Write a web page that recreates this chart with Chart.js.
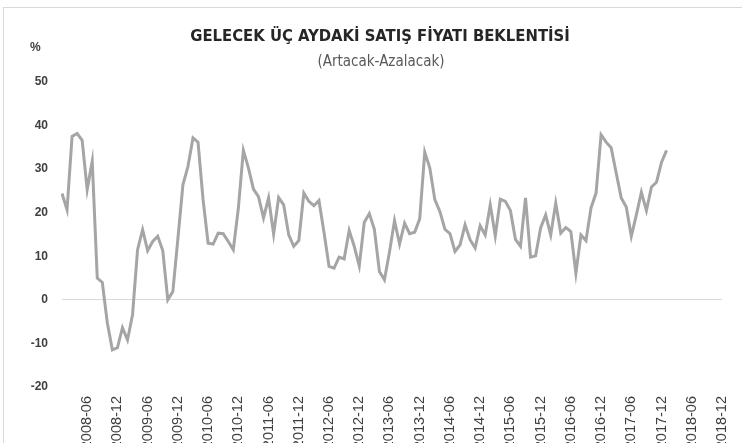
<!DOCTYPE html>
<html>
<head>
<meta charset="utf-8">
<script src="https://cdn.jsdelivr.net/npm/chart.js@4/dist/chart.umd.min.js"></script>
<style>
  html, body { margin: 0; padding: 0; background: #fff; overflow: hidden; }
  #wrap { position: relative; width: 742px; height: 470px; }
</style>
</head>
<body>
<div id="wrap"><canvas id="c" width="742" height="470"></canvas></div>
<script>
// Monthly values 2008-01 .. 2018-01
const v2008 = [24.4, 20.7, 37.5, 38.2, 36.6, 25.3, 31.8, 5.0, 4.0, -5.3, -11.5, -11.0];
const v2009 = [-6.4, -9.2, -3.4, 11.5, 16.1, 11.3, 13.4, 14.6, 11.3, 0.0, 1.9, 14.0];
const v2010 = [26.4, 30.6, 37.2, 36.2, 23.0, 13.0, 12.8, 15.3, 15.2, 13.4, 11.5, 21.0];
const v2011 = [34.3, 30.3, 25.4, 23.7, 18.8, 23.4, 15.1, 23.5, 21.8, 14.9, 12.3, 13.6];
const v2012 = [24.5, 22.6, 21.6, 22.8, 15.5, 7.7, 7.3, 9.8, 9.4, 15.9, 12.3, 7.8];
const v2013 = [17.8, 19.8, 16.2, 6.5, 4.6, 11.0, 18.2, 12.8, 17.6, 15.2, 15.5, 18.6];
const v2014 = [33.9, 30.3, 23.0, 20.3, 16.2, 15.2, 11.1, 12.6, 17.2, 13.8, 11.9, 17.0];
const v2015 = [14.9, 21.8, 14.7, 23.1, 22.6, 20.5, 13.9, 12.3, 23.4, 9.8, 10.1, 16.5];
const v2016 = [19.5, 14.9, 22.2, 15.3, 16.6, 15.7, 6.1, 14.9, 13.6, 21.1, 24.5, 37.9];
const v2017 = [36.2, 34.9, 29.1, 23.4, 21.3, 14.6, 19.5, 24.7, 20.5, 25.9, 27.0, 31.6];
const v2018 = [34.3];

const years = [2008, 2009, 2010, 2011, 2012, 2013, 2014, 2015, 2016, 2017, 2018];
const months = ['01','02','03','04','05','06','07','08','09','10','11','12'];
const yTicks = [-20, -10, 0, 10, 20, 30, 40, 50];

const titleText = 'GELECEK ÜÇ AYDAKİ SATIŞ FİYATI BEKLENTİSİ';
const subtitleText = '(Artacak-Azalacak)';
const unitText = '%';

const categories = [];
years.forEach(y => months.forEach(m => categories.push(y + '-' + m)));
const values = [].concat(v2008, v2009, v2010, v2011, v2012, v2013, v2014, v2015, v2016, v2017, v2018);

const headings = {
  id: 'headings',
  beforeDraw(chart) {
    const ctx = chart.ctx;
    ctx.save();
    ctx.strokeStyle = '#d9d9d9';
    ctx.lineWidth = 1;
    ctx.strokeRect(3.5, 7.5, 900, 600);
    ctx.restore();
  },
  afterDraw(chart) {
    const ctx = chart.ctx;
    ctx.save();
    ctx.textBaseline = 'middle';
    ctx.textAlign = 'center';
    ctx.fillStyle = '#262626';
    ctx.font = 'bold 16.5px "DejaVu Sans Condensed", "DejaVu Sans", sans-serif';
    ctx.fillText(titleText, 380, 37);
    ctx.fillStyle = '#595959';
    ctx.font = '15px "DejaVu Sans Condensed", "DejaVu Sans", sans-serif';
    ctx.fillText(subtitleText, 381, 62);
    ctx.textAlign = 'left';
    ctx.fillStyle = '#404040';
    ctx.font = 'bold 12px "Liberation Sans", Arial, sans-serif';
    ctx.fillText(unitText, 30, 48);
    ctx.restore();
  }
};

new Chart(document.getElementById('c'), {
  type: 'line',
  data: {
    labels: categories,
    datasets: [{
      data: values,
      borderColor: '#a5a5a5',
      borderWidth: 3,
      pointRadius: 0,
      tension: 0,
      fill: false
    }]
  },
  plugins: [headings],
  options: {
    responsive: false,
    animation: false,
    layout: { padding: { left: 0, right: 20, top: 82, bottom: 0 } },
    plugins: {
      legend: { display: false },
      tooltip: { enabled: false },
      title: { display: false },
      subtitle: { display: false }
    },
    scales: {
      x: {
        type: 'category',
        offset: false,
        grid: { display: false, drawTicks: false },
        border: { display: false },
        ticks: {
          autoSkip: false,
          minRotation: 90,
          maxRotation: 90,
          padding: 9,
          color: '#404040',
          font: { family: '"Liberation Sans", Arial, sans-serif', size: 14.5 },
          callback: function(val, idx) {
            const l = categories[idx];
            return (l.endsWith('-06') || l.endsWith('-12')) ? l : '';
          }
        },
        afterFit(scale) {
          scale.height = 83;
          scale.paddingLeft = 0;
          scale.paddingRight = 0;
        }
      },
      y: {
        min: -20,
        max: 50,
        afterBuildTicks(scale) { scale.ticks = yTicks.map(v => ({ value: v })); },
        grid: {
          drawTicks: false,
          color: ctx => (ctx.tick && ctx.tick.value === 0) ? '#d9d9d9' : 'rgba(0,0,0,0)',
          lineWidth: 1
        },
        border: { display: false },
        ticks: {
          padding: 14,
          color: '#404040',
          font: { family: '"Liberation Sans", Arial, sans-serif', size: 12, weight: 'bold' }
        },
        afterFit(scale) { scale.width = 62; }
      }
    }
  }
});
</script>
</body>
</html>
